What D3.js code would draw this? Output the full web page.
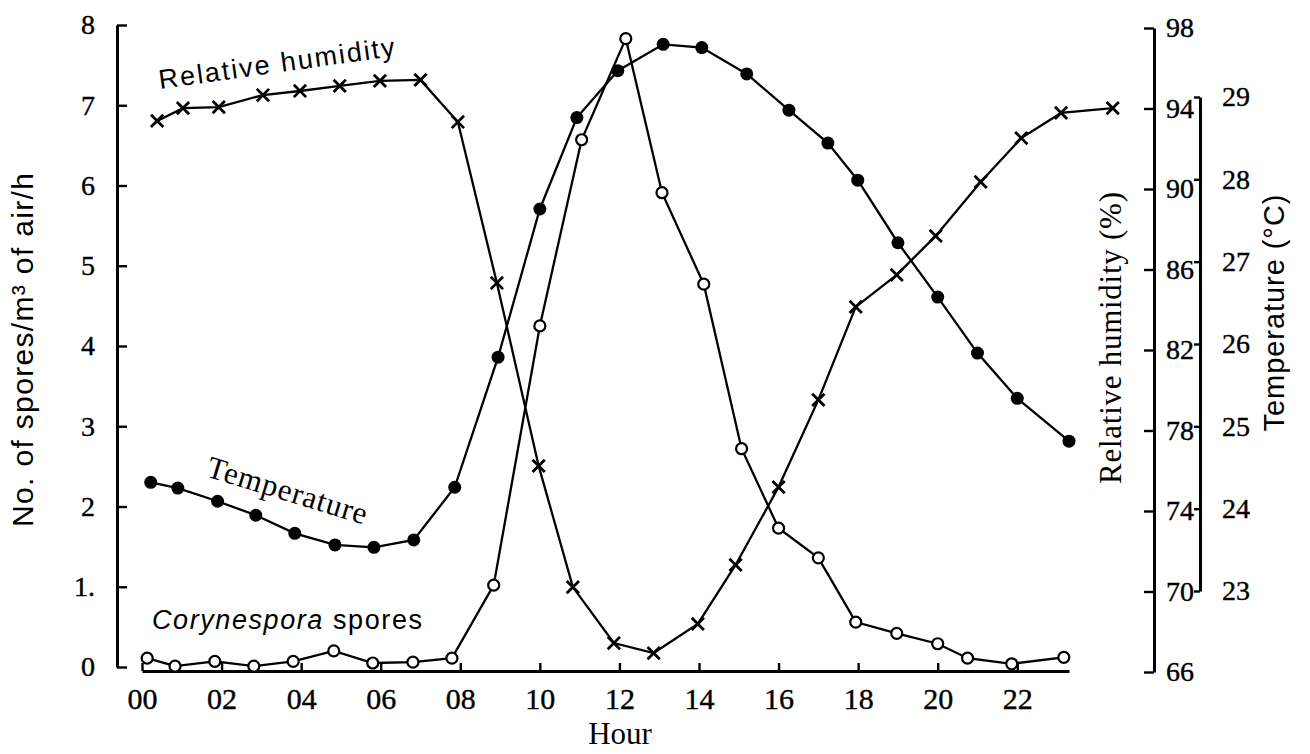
<!DOCTYPE html>
<html>
<head>
<meta charset="utf-8">
<script src="https://cdn.jsdelivr.net/npm/d3@7"></script>
<style>
  body { margin: 0; background: #fff; }
  svg { display: block; }
</style>
</head>
<body>
<div id="chart"></div>
<script>
// hours for each series (the points are not exactly on the hour)
const sporeHours = [0.13, 0.83, 1.83, 2.81, 3.8, 4.82, 5.8, 6.81, 7.79, 8.84, 10.0, 11.05, 12.16, 13.07, 14.12, 15.07, 16.0, 17.0, 17.94, 18.97, 20.0, 20.75, 21.86, 23.17];
const sporeCounts = [0.11, 0.01, 0.07, 0.01, 0.07, 0.2, 0.05, 0.06, 0.11, 1.02, 4.25, 6.57, 7.83, 5.91, 4.77, 2.72, 1.73, 1.36, 0.56, 0.42, 0.29, 0.11, 0.04, 0.12];

const tempHours = [0.22, 0.9, 1.9, 2.86, 3.84, 4.85, 5.83, 6.83, 7.86, 8.95, 10.0, 10.93, 11.96, 13.1, 14.07, 15.2, 16.26, 17.24, 17.99, 19.0, 20.0, 21.0, 22.0, 23.3];
const tempValues = [24.32, 24.25, 24.09, 23.92, 23.7, 23.56, 23.53, 23.62, 24.26, 25.84, 27.64, 28.75, 29.32, 29.64, 29.6, 29.28, 28.84, 28.44, 27.99, 27.23, 26.57, 25.89, 25.34, 24.82];

const rhHours = [0.38, 1.03, 1.93, 3.04, 3.97, 4.97, 5.98, 7.0, 7.94, 8.92, 9.97, 10.83, 11.86, 12.86, 13.97, 14.92, 16.0, 17.0, 17.94, 18.97, 19.95, 21.08, 22.1, 23.1, 24.4];
const rhValues = [93.38, 94.02, 94.07, 94.67, 94.87, 95.12, 95.37, 95.42, 93.33, 85.33, 76.24, 70.22, 67.44, 66.94, 68.39, 71.32, 75.19, 79.52, 84.14, 85.73, 87.67, 90.35, 92.53, 93.78, 94.02];

const hourTicks = [0, 2, 4, 6, 8, 10, 12, 14, 16, 18, 20, 22];
const sporeTicks = [0, 1, 2, 3, 4, 5, 6, 7, 8];
const rhTicks = [66, 70, 74, 78, 82, 86, 90, 94, 98];
const tempTicks = [23, 24, 25, 26, 27, 28, 29];

const serif = "'Liberation Serif', 'Times New Roman', serif";
const sans = "'Liberation Sans', Arial, sans-serif";

function drawChart() {
  const svg = d3.select("#chart").append("svg")
    .attr("width", 1310)
    .attr("height", 754)
    .style("background", "#fff");

  const x = d3.scaleLinear().domain([0, 23.3]).range([142, 1069]);
  const ySpore = d3.scaleLinear().domain([0, 8]).range([667, 25]);
  const yRH = d3.scaleLinear().domain([66, 98]).range([672, 28]);
  const yTemp = d3.scaleLinear().domain([23, 29]).range([591, 97]);

  // axes
  const xAxis = svg.append("g")
    .attr("transform", "translate(0,671)")
    .call(d3.axisBottom(x).tickValues(hourTicks).tickSizeInner(-8).tickSizeOuter(0).tickPadding(17)
      .tickFormat(d3.format("02d")));

  const leftAxis = svg.append("g")
    .attr("transform", "translate(117,0)")
    .call(d3.axisLeft(ySpore).tickValues(sporeTicks).tickSizeInner(-10).tickSizeOuter(0).tickPadding(22)
      .tickFormat(d => d === 1 ? "1." : d));

  const rhAxis = svg.append("g")
    .attr("transform", "translate(1154,0)")
    .call(d3.axisRight(yRH).tickValues(rhTicks).tickSizeInner(-10).tickSizeOuter(0).tickPadding(12));

  const tempAxis = svg.append("g")
    .attr("transform", "translate(1200,0)")
    .call(d3.axisRight(yTemp).tickValues(tempTicks).tickSizeInner(-6).tickSizeOuter(0).tickPadding(22)
      .tickFormat(d3.format("d")));

  [xAxis, leftAxis, rhAxis, tempAxis].forEach(a => {
    a.selectAll(".domain").attr("stroke", "#000").attr("stroke-width", 3);
    a.selectAll(".tick line").attr("stroke", "#000").attr("stroke-width", 2.4);
    a.selectAll("text").attr("fill", "#000")
      .attr("stroke", "#000").attr("stroke-width", 0.4)
      .style("font-family", serif).style("font-size", "28px");
  });
  xAxis.selectAll("text").style("font-size", "30px");

  // lines
  const rhData = rhHours.map((h, i) => ({ h: h, v: rhValues[i] }));
  const tempData = tempHours.map((h, i) => ({ h: h, v: tempValues[i] }));
  const sporeData = sporeHours.map((h, i) => ({ h: h, v: sporeCounts[i] }));

  svg.append("path").datum(rhData)
    .attr("fill", "none").attr("stroke", "#000").attr("stroke-width", 2.3)
    .attr("d", d3.line().x(d => x(d.h)).y(d => yRH(d.v)));

  svg.append("path").datum(tempData)
    .attr("fill", "none").attr("stroke", "#000").attr("stroke-width", 2.3)
    .attr("d", d3.line().x(d => x(d.h)).y(d => yTemp(d.v)));

  svg.append("path").datum(sporeData)
    .attr("fill", "none").attr("stroke", "#000").attr("stroke-width", 2.3)
    .attr("d", d3.line().x(d => x(d.h)).y(d => ySpore(d.v)));

  // markers
  svg.selectAll(".rh").data(rhData).enter().append("path")
    .attr("class", "rh")
    .attr("d", d3.symbol(d3.symbolTimes, 100))
    .attr("transform", d => `translate(${x(d.h)},${yRH(d.v)})`)
    .attr("fill", "none").attr("stroke", "#000").attr("stroke-width", 2.8);

  svg.selectAll(".temp").data(tempData).enter().append("circle")
    .attr("class", "temp")
    .attr("cx", d => x(d.h)).attr("cy", d => yTemp(d.v)).attr("r", 6.5)
    .attr("fill", "#000");

  svg.selectAll(".spore").data(sporeData).enter().append("circle")
    .attr("class", "spore")
    .attr("cx", d => x(d.h)).attr("cy", d => ySpore(d.v)).attr("r", 5.5)
    .attr("fill", "#fff").attr("stroke", "#000").attr("stroke-width", 2.2);

  // curve labels
  svg.append("text")
    .attr("transform", "translate(160,89) rotate(-8)")
    .attr("textLength", 238)
    .style("font-family", sans).style("font-size", "27px")
    .text("Relative humidity");

  svg.append("text")
    .attr("transform", "translate(205,476) rotate(17)")
    .attr("textLength", 166)
    .style("font-family", serif).style("font-size", "31px")
    .text("Temperature");

  const cory = svg.append("text")
    .attr("x", 152).attr("y", 629)
    .attr("textLength", 270)
    .style("font-family", sans).style("font-size", "27px");
  cory.append("tspan").style("font-style", "italic").text("Corynespora");
  cory.append("tspan").text(" spores");

  // axis titles
  svg.append("text")
    .attr("transform", "translate(33,350) rotate(-90)")
    .attr("text-anchor", "middle")
    .attr("textLength", 354)
    .style("font-family", sans).style("font-size", "30px")
    .text("No. of spores/m³ of air/h");

  svg.append("text")
    .attr("transform", "translate(1121,338) rotate(-90)")
    .attr("text-anchor", "middle")
    .attr("textLength", 292)
    .style("font-family", serif).style("font-size", "31px")
    .text("Relative humidity (%)");

  svg.append("text")
    .attr("transform", "translate(1284,313) rotate(-90)")
    .attr("text-anchor", "middle")
    .attr("textLength", 237)
    .style("font-family", sans).style("font-size", "29px")
    .text("Temperature (°C)");

  svg.append("text")
    .attr("x", 620).attr("y", 744)
    .attr("text-anchor", "middle")
    .style("font-family", serif).style("font-size", "31px")
    .text("Hour");
}

drawChart();
</script>
</body>
</html>
